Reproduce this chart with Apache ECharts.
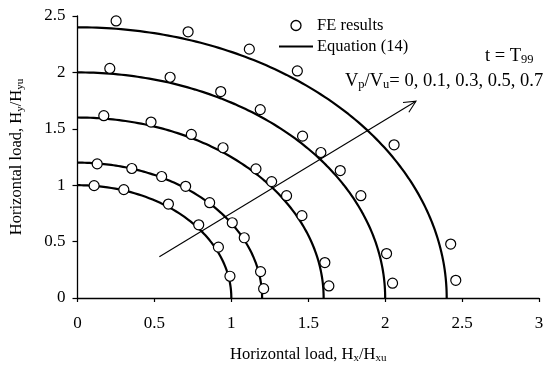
<!DOCTYPE html>
<html>
<head>
<meta charset="utf-8">
<script src="https://cdn.jsdelivr.net/npm/echarts@6/dist/echarts.min.js"></script>
<style>
  html, body { margin: 0; padding: 0; background: #fff; }
  #chart { width: 548px; height: 371px; }
</style>
</head>
<body>
<div id="chart"></div>
<script>
// Normalised capacity radii for Vp/Vu = 0, 0.1, 0.3, 0.5, 0.7 (Equation (14))
const radii = [1.0, 1.2, 1.6, 2.0, 2.4];

// FE results [Hx/Hxu, Hy/Hyu] for each Vp/Vu level
const feVp00 = [[0.108, 0.996], [0.301, 0.961], [0.591, 0.833], [0.788, 0.649], [0.916, 0.451], [0.991, 0.193]];
const feVp01 = [[0.128, 1.189], [0.353, 1.148], [0.547, 1.077], [0.703, 0.990], [0.859, 0.845], [1.006, 0.667], [1.084, 0.534], [1.190, 0.234], [1.210, 0.083]];
const feVp03 = [[0.171, 1.616], [0.478, 1.560], [0.740, 1.450], [0.946, 1.332], [1.160, 1.145], [1.262, 1.032], [1.359, 0.907], [1.459, 0.730], [1.608, 0.314], [1.634, 0.107]];
const feVp05 = [[0.210, 2.035], [0.602, 1.957], [0.931, 1.830], [1.188, 1.670], [1.463, 1.435], [1.582, 1.290], [1.708, 1.130], [1.842, 0.907], [2.009, 0.394], [2.048, 0.131]];
const feVp07 = [[0.251, 2.456], [0.719, 2.360], [1.117, 2.206], [1.429, 2.013], [2.058, 1.358], [2.426, 0.478], [2.459, 0.157]];
const feGroups = [feVp00, feVp01, feVp03, feVp05, feVp07];

// Direction of increasing Vp/Vu: [x0, y0, x1, y1]
const trendArrow = [[0.532, 0.365, 2.20, 1.744]];

// Axis ticks
const xTicks = [0, 0.5, 1, 1.5, 2, 2.5, 3];
const yTicks = [0, 0.5, 1, 1.5, 2, 2.5];

const FONT = '"Liberation Serif", "Times New Roman", serif';

// Quarter interaction curve (Hx/Hxu)^2 + (Hy/Hyu)^2 = r^2
function quarterCurve(r) {
  const pts = [];
  const n = 120;
  for (let i = 0; i <= n; i++) {
    const t = (Math.PI / 2) * i / n;
    pts.push([r * Math.sin(t), r * Math.cos(t)]);
  }
  return pts;
}

const series = [];
radii.forEach(function (r) {
  series.push({
    name: 'Equation (14)',
    type: 'line',
    data: quarterCurve(r),
    symbol: 'none',
    smooth: false,
    lineStyle: { color: '#000', width: 2.2 },
    itemStyle: { color: '#000' },
    z: 2,
    silent: true
  });
});
feGroups.forEach(function (g) {
  series.push({
    name: 'FE results',
    type: 'scatter',
    data: g,
    symbol: 'circle',
    symbolSize: 10,
    itemStyle: { color: '#fff', borderColor: '#000', borderWidth: 1.2, opacity: 1 },
    z: 3,
    silent: true
  });
});
series.push({
  type: 'custom',
  data: trendArrow,
  z: 4,
  silent: true,
  renderItem: function (params, api) {
    const p0 = api.coord([api.value(0), api.value(1)]);
    const p1 = api.coord([api.value(2), api.value(3)]);
    const ang = Math.atan2(p1[1] - p0[1], p1[0] - p0[0]);
    const L = 13, spread = 0.45;
    const a1 = [p1[0] - L * Math.cos(ang - spread), p1[1] - L * Math.sin(ang - spread)];
    const a2 = [p1[0] - L * Math.cos(ang + spread), p1[1] - L * Math.sin(ang + spread)];
    const st = { stroke: '#000', lineWidth: 1.1, fill: null };
    return {
      type: 'group',
      children: [
        { type: 'line', shape: { x1: p0[0], y1: p0[1], x2: p1[0], y2: p1[1] }, style: st },
        { type: 'polyline', shape: { points: [a1, p1, a2] }, style: st }
      ]
    };
  }
});

const subRich = function (size, sub, pad) {
  return {
    s: { fontFamily: FONT, fontSize: size, color: '#000' },
    sub: { fontFamily: FONT, fontSize: sub, color: '#000', verticalAlign: 'bottom', padding: [pad, 0, 0, 0] }
  };
};

const chart = echarts.init(document.getElementById('chart'), null, { renderer: 'canvas' });
chart.setOption({
  animation: false,
  backgroundColor: '#fff',
  grid: { left: 77, right: 9, top: 16, bottom: 73, containLabel: false },
  legend: {
    orient: 'vertical',
    left: 279,
    top: 17,
    itemWidth: 34,
    itemHeight: 10,
    itemGap: 4,
    padding: 0,
    symbolKeepAspect: true,
    data: [
      { name: 'FE results', icon: 'circle',
        itemStyle: { color: '#fff', borderColor: '#000', borderWidth: 1.3 } },
      { name: 'Equation (14)', icon: 'path://M0,0 L34,0 L34,2 L0,2 Z',
        itemStyle: { color: '#000', borderWidth: 0 } }
    ],
    textStyle: { fontFamily: FONT, fontSize: 16.5, color: '#000', padding: [0, 0, 0, -1] }
  },
  xAxis: {
    type: 'value',
    min: xTicks[0],
    max: xTicks[xTicks.length - 1],
    interval: 0.5,
    name: '{s|Horizontal load, H}{sub|x}{s|/H}{sub|xu}',
    nameLocation: 'middle',
    nameGap: 48,
    nameTextStyle: { fontFamily: FONT, fontSize: 16.5, color: '#000', rich: subRich(16.5, 11, 7) },
    axisLine: { lineStyle: { color: '#000', width: 1.3 } },
    axisTick: { show: true, inside: false, length: 4, lineStyle: { color: '#000', width: 1.2 } },
    axisLabel: { fontFamily: FONT, fontSize: 17, color: '#000', margin: 17 },
    splitLine: { show: false }
  },
  yAxis: {
    type: 'value',
    min: yTicks[0],
    max: yTicks[yTicks.length - 1],
    interval: 0.5,
    name: '{s|Horizontal load, H}{sub|y}{s|/H}{sub|yu}',
    nameLocation: 'middle',
    nameGap: 52,
    nameTextStyle: { fontFamily: FONT, fontSize: 16.5, color: '#000', rich: subRich(16.5, 11, 7) },
    axisLine: { show: true, lineStyle: { color: '#000', width: 1.3 } },
    axisTick: { show: true, inside: false, length: 5, lineStyle: { color: '#000', width: 1.2 } },
    axisLabel: { fontFamily: FONT, fontSize: 17, color: '#000', margin: 12 },
    splitLine: { show: false }
  },
  graphic: [
    {
      type: 'text',
      left: 485,
      top: 47,
      silent: true,
      style: {
        text: '{m|t = T}{sub|99}',
        rich: {
          m: { fontFamily: FONT, fontSize: 18.5, fill: '#000' },
          sub: { fontFamily: FONT, fontSize: 12.5, fill: '#000', verticalAlign: 'bottom', padding: [7, 0, 0, 0] }
        }
      }
    },
    {
      type: 'text',
      left: 345,
      top: 72,
      silent: true,
      style: {
        text: '{m|V}{sub|p}{m|/V}{sub|u}{m|= 0, 0.1, 0.3, 0.5, 0.7}',
        rich: {
          m: { fontFamily: FONT, fontSize: 18.5, fill: '#000' },
          sub: { fontFamily: FONT, fontSize: 12.5, fill: '#000', verticalAlign: 'bottom', padding: [7, 0, 0, 0] }
        }
      }
    }
  ],
  series: series
});
</script>
</body>
</html>
